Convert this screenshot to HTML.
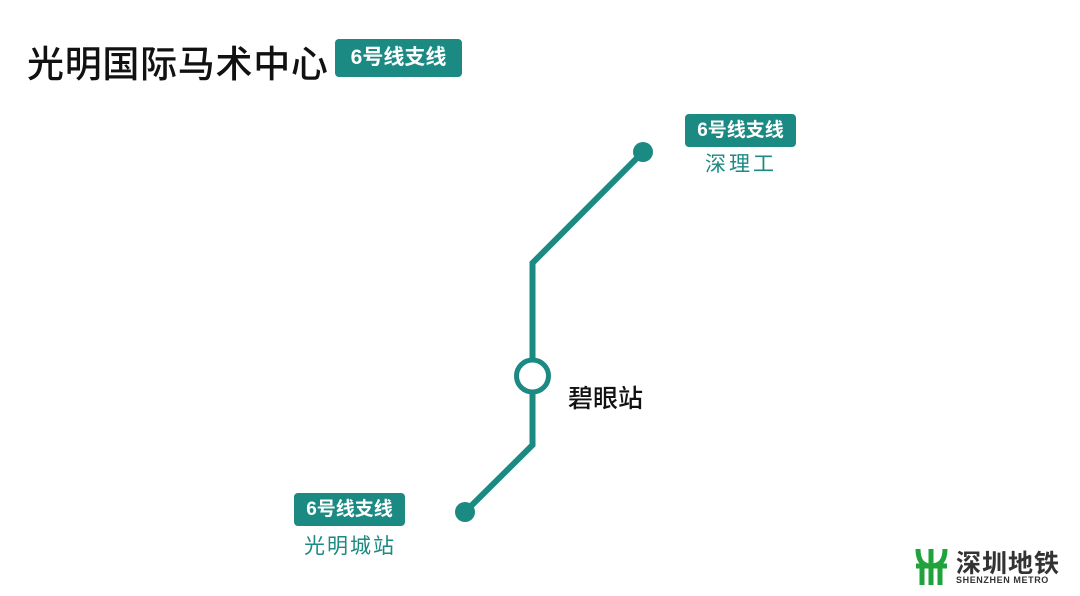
<!DOCTYPE html>
<html><head><meta charset="utf-8"><style>
body{margin:0;width:1080px;height:596px;background:#fff;position:relative;overflow:hidden;font-family:"Liberation Sans","Noto Sans CJK SC",sans-serif}
.a{position:absolute;white-space:nowrap}
.badge{position:absolute;background:#1b8a82;color:#fff;border-radius:4px;font-weight:bold;text-align:center}
</style></head><body>
<div class="a" style="left:27px;top:34px;font-size:37px;font-weight:500;color:#111;letter-spacing:0.7px">光明国际马术中心</div>
<div class="badge" style="left:335px;top:39px;width:127px;height:38px;line-height:38px;font-size:21px;font-weight:700">6号线支线</div>
<div class="badge" style="left:685px;top:114px;width:111px;height:33px;line-height:33px;font-size:19px;font-weight:700">6号线支线</div>
<div class="a" style="left:705px;top:148px;font-size:21px;color:#1b8a82;letter-spacing:3px">深理工</div>
<div class="badge" style="left:294px;top:493px;width:111px;height:33px;line-height:33px;font-size:19px;font-weight:700">6号线支线</div>
<div class="a" style="left:304px;top:530px;font-size:21px;color:#1b8a82;letter-spacing:2px">光明城站</div>
<div class="a" style="left:568px;top:379px;font-size:25px;font-weight:500;color:#111">碧眼站</div>
<svg class="a" style="left:0;top:0" width="1080" height="596">
<polyline points="643,152 532.5,263 532.5,445 465,512" fill="none" stroke="#1b8a82" stroke-width="6"/>
<circle cx="643" cy="152" r="10" fill="#1b8a82"/>
<circle cx="465" cy="512" r="10" fill="#1b8a82"/>
<circle cx="532.5" cy="376" r="16" fill="#fff" stroke="#1b8a82" stroke-width="5"/>
<g fill="none" stroke="#1fa33a" stroke-width="5">
<path d="M918,549 Q918,566 931,566 Q945,566 945,549"/>
<line x1="931" y1="549" x2="931" y2="585"/>
<line x1="922" y1="566" x2="922" y2="585"/>
<line x1="940" y1="566" x2="940" y2="585"/>
<line x1="916" y1="566" x2="947" y2="566"/>
</g>
</svg>
<div class="a" style="left:956px;top:544px;font-size:25px;font-weight:bold;color:#333;letter-spacing:1px">深圳地铁</div>
<div class="a" style="left:956px;top:575px;font-size:9px;font-weight:bold;color:#333;letter-spacing:0.6px">SHENZHEN METRO</div>
</body></html>
